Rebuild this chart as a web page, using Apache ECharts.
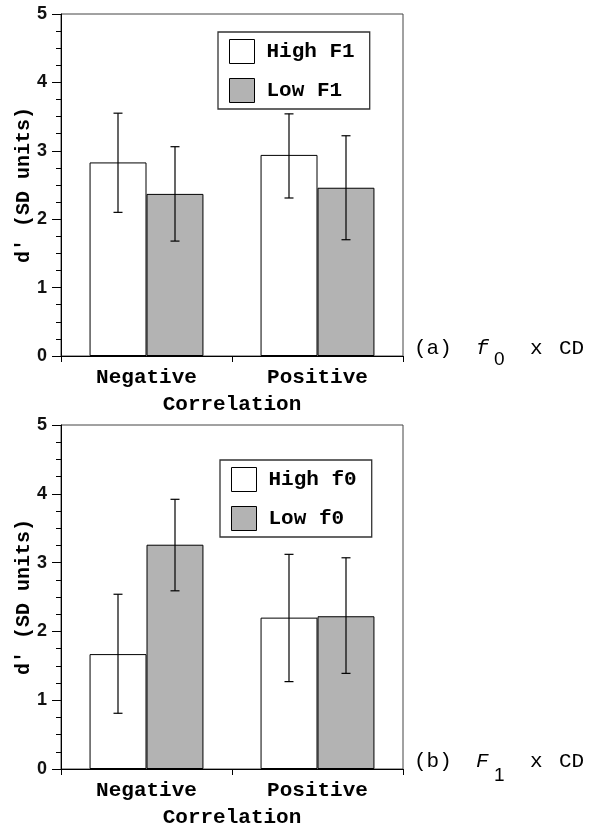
<!DOCTYPE html>
<html><head><meta charset="utf-8">
<script src="https://cdn.jsdelivr.net/npm/echarts@6/dist/echarts.min.js"></script>
<style>html,body{margin:0;padding:0;background:#fff}#c{width:604px;height:836px}</style>
</head><body><div id="c"></div>
<script>
const categories = ['Negative', 'Positive'];
const yTicks = [0, 1, 2, 3, 4, 5];
// Panel (a): f0 x CD
const aNames = ['High F1', 'Low F1'];
const aHigh = [2.83, 2.94];
const aLow = [2.37, 2.46];
const aHighErr = [[2.10, 3.55], [2.31, 3.54]];
const aLowErr = [[1.68, 3.06], [1.70, 3.22]];
// Panel (b): F1 x CD
const bNames = ['High f0', 'Low f0'];
const bHigh = [1.67, 2.20];
const bLow = [3.26, 2.22];
const bHighErr = [[0.81, 2.54], [1.27, 3.12]];
const bLowErr = [[2.59, 3.92], [1.39, 3.07]];

const MONO = '"Liberation Mono", "Courier New", monospace';
const SANS = 'Liberation Sans, Arial, sans-serif';
const WHITE = '#ffffff', GRAY = '#b3b3b3';

function errSeries(errs, axisIdx, slot) {
  return {
    type: 'custom', xAxisIndex: axisIdx, yAxisIndex: axisIdx, z: 5,
    data: errs.map((e, i) => [i, e[0], e[1]]),
    renderItem: function (params, api) {
      const band = api.size([1, 0])[0];
      const off = (slot - 0.5) * band / 3;
      const lo = api.coord([api.value(0), api.value(1)]);
      const hi = api.coord([api.value(0), api.value(2)]);
      const x = lo[0] + off, c = 4.5;
      const st = { stroke: '#000', lineWidth: 1.2 };
      return { type: 'group', children: [
        { type: 'line', shape: { x1: x, y1: lo[1], x2: x, y2: hi[1] }, style: st },
        { type: 'line', shape: { x1: x - c, y1: lo[1], x2: x + c, y2: lo[1] }, style: st },
        { type: 'line', shape: { x1: x - c, y1: hi[1], x2: x + c, y2: hi[1] }, style: st }
      ]};
    }
  };
}
function barSeries(name, vals, color, axisIdx) {
  return { name: name, type: 'bar', xAxisIndex: axisIdx, yAxisIndex: axisIdx,
    data: vals, barWidth: '33.3%', barGap: '0%',
    itemStyle: { color: color, borderColor: '#000', borderWidth: 1 } };
}
function xAx(idx) {
  return { type: 'category', gridIndex: idx, data: categories,
    name: 'Correlation', nameLocation: 'middle', nameGap: 38,
    nameTextStyle: { fontFamily: MONO, fontWeight: 'bold', fontSize: 21, color: '#000' },
    axisLine: { lineStyle: { color: '#000', width: 1 } },
    axisTick: { show: true, length: 6, lineStyle: { color: '#000' } },
    axisLabel: { margin: 11, fontFamily: MONO, fontWeight: 'bold', fontSize: 21, color: '#000' } };
}
function yAx(idx) {
  return { type: 'value', gridIndex: idx, min: yTicks[0], max: yTicks[yTicks.length - 1], interval: 1,
    name: "d' (SD units)", nameLocation: 'middle', nameGap: 27, nameMoveOverlap: false,
    nameTextStyle: { fontFamily: MONO, fontWeight: 'bold', fontSize: 20, color: '#000' },
    axisLine: { show: true, lineStyle: { color: '#000', width: 1 } },
    axisTick: { show: true, length: 9, lineStyle: { color: '#000' } },
    minorTick: { show: true, splitNumber: 4, length: 5, lineStyle: { color: '#000' } },
    splitLine: { show: false },
    axisLabel: { margin: 14, fontFamily: SANS, fontWeight: 'bold', fontSize: 18, color: '#111' } };
}
function legend(names, left, top) {
  return { orient: 'vertical', left: left, top: top, icon: 'rect',
    itemWidth: 25, itemHeight: 24, itemGap: 14,
    padding: [7, 15, 6, 11], borderColor: '#333', borderWidth: 1.3,
    textStyle: { fontFamily: MONO, fontWeight: 'bold', fontSize: 21, color: '#000', padding: [0, 0, 0, 7] },
    data: [
      { name: names[0], itemStyle: { color: WHITE, borderColor: '#000', borderWidth: 1 } },
      { name: names[1], itemStyle: { color: GRAY, borderColor: '#000', borderWidth: 1 } }
    ] };
}
function label(x, y, main, letter, sub, subDy) {
  const f = '21px ' + MONO;
  return { type: 'group', children: [
    { type: 'text', x: x, y: y, style: { text: main, font: f, fill: '#000', verticalAlign: 'middle' } },
    { type: 'text', x: x + 62, y: y, style: { text: letter, font: 'italic ' + f, fill: '#000', verticalAlign: 'middle' } },
    { type: 'text', x: x + 80, y: y + subDy, style: { text: sub, font: '19px ' + SANS, fill: '#000', verticalAlign: 'middle' } },
    { type: 'text', x: x + 116, y: y, style: { text: 'x', font: f, fill: '#000', verticalAlign: 'middle' } },
    { type: 'text', x: x + 145, y: y, style: { text: 'CD', font: f, fill: '#000', verticalAlign: 'middle' } }
  ]};
}

const chart = echarts.init(document.getElementById('c'), null, { renderer: 'canvas' });
chart.setOption({
  animation: false,
  backgroundColor: '#fff',
  grid: [
    { left: 61, top: 14, width: 342, height: 342, show: true, borderColor: '#444', borderWidth: 1, outerBoundsMode: 'none', containLabel: false },
    { left: 61, top: 425, width: 342, height: 344, show: true, borderColor: '#444', borderWidth: 1, outerBoundsMode: 'none', containLabel: false }
  ],
  legend: [legend(aNames, 218, 32), legend(bNames, 220, 460)],
  xAxis: [xAx(0), xAx(1)],
  yAxis: [yAx(0), yAx(1)],
  series: [
    barSeries(aNames[0], aHigh, WHITE, 0),
    barSeries(aNames[1], aLow, GRAY, 0),
    errSeries(aHighErr, 0, 0),
    errSeries(aLowErr, 0, 1),
    barSeries(bNames[0], bHigh, WHITE, 1),
    barSeries(bNames[1], bLow, GRAY, 1),
    errSeries(bHighErr, 1, 0),
    errSeries(bLowErr, 1, 1)
  ],
  graphic: [
    label(414, 348, '(a)', 'f', '0', 12),
    label(414, 761, '(b)', 'F', '1', 15)
  ]
});
</script></body></html>
